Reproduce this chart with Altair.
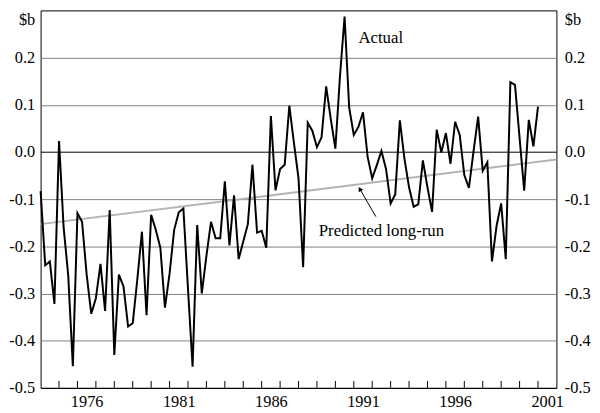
import altair as alt
import pandas as pd

# Quarterly values, first point 1974 Q1
actual = [
    -0.083, -0.240, -0.232, -0.322, 0.023, -0.160, -0.262, -0.454,
    -0.130, -0.148, -0.260, -0.343, -0.310, -0.237, -0.337, -0.123,
    -0.430, -0.260, -0.285, -0.370, -0.363, -0.270, -0.169, -0.346,
    -0.133, -0.165, -0.203, -0.330, -0.258, -0.165, -0.128, -0.120,
    -0.290, -0.455, -0.155, -0.300, -0.220, -0.148, -0.183, -0.183,
    -0.062, -0.198, -0.092, -0.227, -0.190, -0.153, -0.027, -0.171,
    -0.167, -0.203, 0.076, -0.081, -0.036, -0.027, 0.098, 0.020,
    -0.056, -0.244, 0.062, 0.045, 0.010, 0.031, 0.139, 0.070,
    0.007, 0.160, 0.287, 0.094, 0.036, 0.053, 0.084, -0.010,
    -0.056, -0.028, 0.002, -0.036, -0.109, -0.090, 0.067, -0.014,
    -0.075, -0.116, -0.111, -0.018, -0.075, -0.127, 0.047, -0.001,
    0.040, -0.025, 0.064, 0.036, -0.049, -0.076, 0.001, 0.075,
    -0.040, -0.022, -0.232, -0.157, -0.109, -0.227, 0.148, 0.142,
    0.030, -0.082, 0.068, 0.012, 0.096,
]
start_year = 1974.0
quarters = [start_year + i * 0.25 for i in range(len(actual))]

predicted_years = [1974.0, 2002.0]
predicted_values = [-0.153, -0.016]

y_ticks = [-0.5, -0.4, -0.3, -0.2, -0.1, 0.0, 0.1, 0.2]
year_labels = [1976, 1981, 1986, 1991, 1996, 2001]
tick_years = list(range(1975, 2002))

labels_text = ["Actual", "Predicted long-run"]
labels_x = [1991.25, 1989.1]
labels_y = [0.242, -0.168]

arrow_from = (1992.2, -0.137)
arrow_to = (1991.35, -0.080)

FONT = "Liberation Serif"
FS = 16.5
W, H = 522, 382

df_actual = pd.DataFrame({"t": quarters, "v": actual})
df_pred = pd.DataFrame({"t": predicted_years, "v": predicted_values})
df_ticks = pd.DataFrame({"t": tick_years})
df_text = pd.DataFrame({"t": labels_x, "v": labels_y, "label": labels_text})
df_arrow = pd.DataFrame({"t": [arrow_from[0]], "v": [arrow_from[1]],
                         "t2": [arrow_to[0]], "v2": [arrow_to[1]]})
df_head = pd.DataFrame({"t": [arrow_to[0]], "v": [arrow_to[1]]})

xscale = alt.Scale(domain=[1974, 2002], nice=False, zero=False)
yscale = alt.Scale(domain=[-0.5, 0.3], nice=False, zero=False)

xaxis = alt.Axis(
    values=[y + 0.5 for y in year_labels],
    labelExpr="'' + floor(datum.value)",
    title=None, grid=False, ticks=False, tickSize=0, domain=False,
    labelFont=FONT, labelFontSize=FS, labelColor="black",
    labelPadding=6, labelFlush=False, labelOverlap=False,
)

lab_expr = "replace(format(datum.value, '.1f'), '\u2212', '-')"

yaxis_left = alt.Axis(
    orient="left", values=y_ticks, labelExpr=lab_expr,
    grid=True,
    gridColor={"condition": {"test": "abs(datum.value) < 0.001 || datum.value < -0.49",
                             "value": "black"}, "value": "#808080"},
    gridWidth=1, ticks=False, tickSize=0, domain=False,
    labelFont=FONT, labelFontSize=FS, labelColor="black", labelPadding=6,
    labelFlush=False, labelOverlap=False,
    title="$b", titleAngle=0, titleX=-6, titleY=1, titleAlign="right",
    titleBaseline="top", titleFont=FONT, titleFontSize=FS,
    titleFontWeight="normal", titleColor="black",
)
yaxis_right = alt.Axis(
    orient="right", values=y_ticks, labelExpr=lab_expr,
    grid=False, ticks=False, tickSize=0, domain=False,
    labelFont=FONT, labelFontSize=FS, labelColor="black", labelPadding=8,
    labelFlush=False, labelOverlap=False,
    title="$b", titleAngle=0, titleX=8, titleY=1, titleAlign="left",
    titleBaseline="top", titleFont=FONT, titleFontSize=FS,
    titleFontWeight="normal", titleColor="black",
)

X = alt.X("t:Q", scale=xscale, axis=xaxis)

pred = alt.Chart(df_pred).mark_line(color="#b4b4b4", strokeWidth=2).encode(
    x=X, y=alt.Y("v:Q", scale=yscale, axis=yaxis_right)
)
act = alt.Chart(df_actual).mark_line(color="black", strokeWidth=2).encode(
    x=X, y=alt.Y("v:Q", scale=yscale, axis=yaxis_left)
)
ticks = alt.Chart(df_ticks).mark_rule(color="black", strokeWidth=1).encode(
    x=X, y=alt.value(H - 7), y2=alt.value(H)
)
arrow = alt.Chart(df_arrow).mark_rule(color="black", strokeWidth=1).encode(
    x=X, y=alt.Y("v:Q", scale=yscale, axis=None),
    x2="t2:Q", y2="v2:Q",
)
head = alt.Chart(df_head).mark_point(
    shape="triangle", filled=True, color="black", size=28, angle=331, opacity=1
).encode(x=X, y=alt.Y("v:Q", scale=yscale, axis=None))
texts = alt.Chart(df_text).mark_text(
    align="left", baseline="middle", font=FONT, fontSize=17, color="black"
).encode(x=X, y=alt.Y("v:Q", scale=yscale, axis=None), text="label:N")

chart = alt.layer(pred, act, ticks, arrow, head, texts).resolve_axis(
    y="independent"
).properties(
    width=W, height=H,
    padding={"left": 33, "top": 0, "right": 36, "bottom": 23},
    autosize=alt.AutoSizeParams(type="none"),
    background="white",
).configure_view(stroke="black", strokeWidth=1)

chart.save("out.html", embed_options={"renderer": "svg", "actions": False})
